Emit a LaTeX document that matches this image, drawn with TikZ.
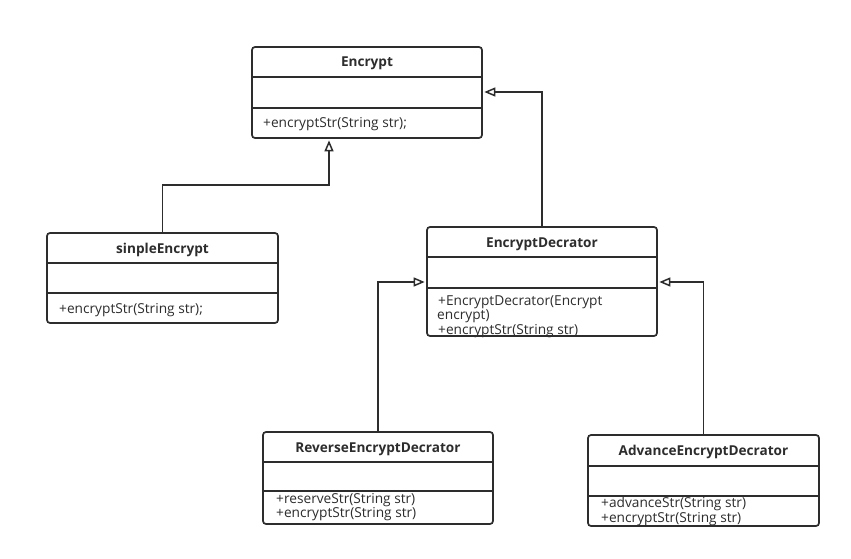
\documentclass[tikz,border=0pt]{standalone}
\usepackage{fontspec}
\setmainfont{Open Sans}
\usetikzlibrary{arrows.meta,calc}
\definecolor{ink}{RGB}{45,45,45}
\tikzset{
  x=1pt,y=-1pt,
  umlbox/.style={draw=ink, line width=1.7pt, rounded corners=3pt, fill=white, inner sep=0pt},
  sep/.style={draw=ink, line width=1.7pt},
  ttl/.style={font=\fontsize{13.6}{15}\selectfont\bfseries, text=ink, inner sep=0pt, anchor=base},
  meth/.style={font=\fontsize{13.7}{15}\selectfont, text=ink, inner sep=0pt, anchor=base west},
  inh/.style={draw=ink, line width=1.7pt, shorten >=1.5pt, -{Triangle[open, length=11pt, width=9pt, line width=1.5pt]}},
}
\begin{document}
\begin{tikzpicture}
\useasboundingbox[fill=white] (0,0) rectangle (851,559);
% Encrypt
\node[umlbox, minimum width=230pt, minimum height=91pt] (enc) at (367,92.5) {};
\draw[sep] (enc.west |- 0,77) -- (enc.east |- 0,77);
\draw[sep] (enc.west |- 0,108) -- (enc.east |- 0,108);
\node[ttl] (enct) at (367,67) {Encrypt};
\node[meth] (encm) at (263,128) {+encryptStr(String str);};
% sinpleEncrypt
\node[umlbox, minimum width=231pt, minimum height=90pt] (sinp) at (162.5,278) {};
\draw[sep] (sinp.west |- 0,263) -- (sinp.east |- 0,263);
\draw[sep] (sinp.west |- 0,293) -- (sinp.east |- 0,293);
\node[ttl] (sinpt) at (162.5,253) {sinpleEncrypt};
\node[meth] (sinpm) at (59,313) {+encryptStr(String str);};
% EncryptDecrator
\node[umlbox, minimum width=230pt, minimum height=109pt] (dec) at (542,281.5) {};
\draw[sep] (dec.west |- 0,257) -- (dec.east |- 0,257);
\draw[sep] (dec.west |- 0,288) -- (dec.east |- 0,288);
\node[ttl] (dect) at (542,247) {EncryptDecrator};
\node[meth] (decm1) at (438,305) {+EncryptDecrator(Encrypt};
\node[meth] (decm2) at (437,319.5) {encrypt)};
\node[meth] (decm3) at (438,334) {+encryptStr(String str)};
% ReverseEncryptDecrator
\node[umlbox, minimum width=230pt, minimum height=92pt] (rev) at (378,478) {};
\draw[sep] (rev.west |- 0,462) -- (rev.east |- 0,462);
\draw[sep] (rev.west |- 0,491) -- (rev.east |- 0,491);
\node[ttl] (revt) at (378,452) {ReverseEncryptDecrator};
\node[meth] (revm1) at (276,503) {+reserveStr(String str)};
\node[meth] (revm2) at (276,517.5) {+encryptStr(String str)};
% AdvanceEncryptDecrator
\node[umlbox, minimum width=231pt, minimum height=91pt] (adv) at (703.5,480.5) {};
\draw[sep] (adv.west |- 0,466) -- (adv.east |- 0,466);
\draw[sep] (adv.west |- 0,496) -- (adv.east |- 0,496);
\node[ttl] (advt) at (703.5,455.5) {AdvanceEncryptDecrator};
\node[meth] (advm1) at (601,507.5) {+advanceStr(String str)};
\node[meth] (advm2) at (601,522) {+encryptStr(String str)};
% connectors
\draw[inh] (sinp.north) -- (sinp.north |- 0,185) -| (enc.south -| 329,0);
\draw[inh] (dec.north) |- (enc.east |- 0,92);
\draw[inh] (rev.north) |- (dec.west |- 0,282);
\draw[inh] (adv.north) |- (dec.east |- 0,282);
\end{tikzpicture}
\end{document}
